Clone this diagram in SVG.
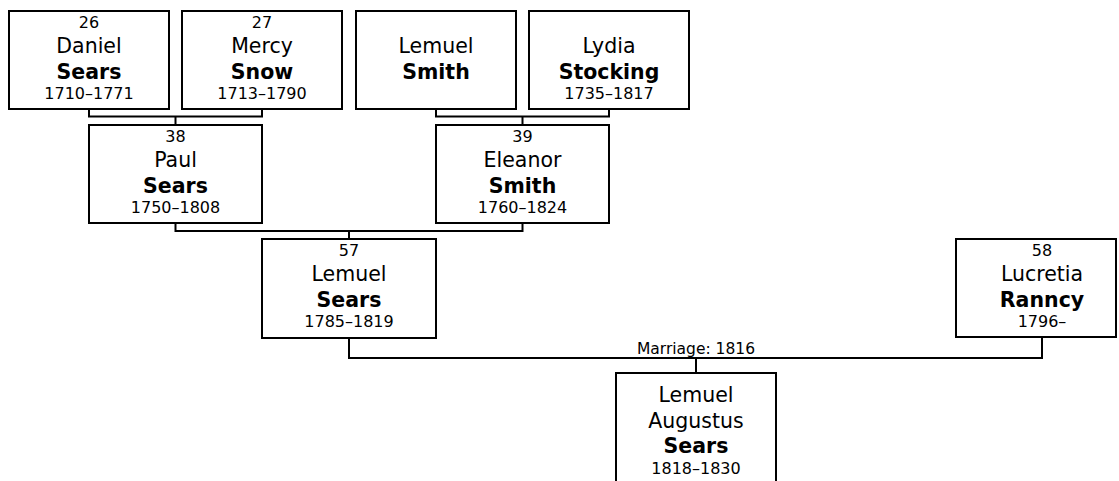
<svg xmlns="http://www.w3.org/2000/svg" width="1119" height="481" viewBox="0 0 1119 481">
<style>
.box{fill:#fff;stroke:#000;stroke-width:2}
.ln{fill:none;stroke:#000;stroke-width:2}
text{font-family:Verdana,"DejaVu Sans",sans-serif;fill:#000;text-anchor:middle}
.n{font-size:16px}
.g{font-size:20.5px}
.s{font-size:20.5px;font-weight:bold}
.d{font-size:16px}
.m{font-size:15.5px}
</style>
<rect width="1119" height="481" fill="#fff"/>
<g id="connectors">
<path class="ln" d="M89,109V116.5H262V109M175.5,116.5V125"/>
<path class="ln" d="M436,109V116.5H609V109M522.5,116.5V125"/>
<path class="ln" d="M175.5,223V231H522.5V223M349,231V239"/>
<path class="ln" d="M349,338V358H1042V337M696,358V373"/>
<text class="m" x="696" y="354">Marriage: 1816</text>
</g>
<g id="p26">
<rect class="box" x="9" y="11" width="160" height="98"/>
<text class="n" x="89" y="28">26</text>
<text class="g" x="89" y="53">Daniel</text>
<text class="s" x="89" y="78.5">Sears</text>
<text class="d" x="89" y="99">1710–1771</text>
</g>
<g id="p27">
<rect class="box" x="182" y="11" width="160" height="98"/>
<text class="n" x="262" y="28">27</text>
<text class="g" x="262" y="53">Mercy</text>
<text class="s" x="262" y="78.5">Snow</text>
<text class="d" x="262" y="99">1713–1790</text>
</g>
<g id="lemuel-smith">
<rect class="box" x="356" y="11" width="160" height="98"/>
<text class="g" x="436" y="53">Lemuel</text>
<text class="s" x="436" y="78.5">Smith</text>
</g>
<g id="lydia-stocking">
<rect class="box" x="529" y="11" width="160" height="98"/>
<text class="g" x="609" y="53">Lydia</text>
<text class="s" x="609" y="78.5">Stocking</text>
<text class="d" x="609" y="99">1735–1817</text>
</g>
<g id="p38">
<rect class="box" x="89" y="125" width="173" height="98"/>
<text class="n" x="175.5" y="142">38</text>
<text class="g" x="175.5" y="167">Paul</text>
<text class="s" x="175.5" y="192.5">Sears</text>
<text class="d" x="175.5" y="213">1750–1808</text>
</g>
<g id="p39">
<rect class="box" x="436" y="125" width="173" height="98"/>
<text class="n" x="522.5" y="142">39</text>
<text class="g" x="522.5" y="167">Eleanor</text>
<text class="s" x="522.5" y="192.5">Smith</text>
<text class="d" x="522.5" y="213">1760–1824</text>
</g>
<g id="p57">
<rect class="box" x="262" y="239" width="174" height="99"/>
<text class="n" x="349" y="256">57</text>
<text class="g" x="349" y="281">Lemuel</text>
<text class="s" x="349" y="306.5">Sears</text>
<text class="d" x="349" y="327">1785–1819</text>
</g>
<g id="p58">
<rect class="box" x="956" y="239" width="160" height="98"/>
<text class="n" x="1042" y="256">58</text>
<text class="g" x="1042" y="281">Lucretia</text>
<text class="s" x="1042" y="306.5">Ranncy</text>
<text class="d" x="1042" y="327">1796–</text>
</g>
<g id="child">
<rect class="box" x="616" y="373" width="160" height="120"/>
<text class="g" x="696" y="402">Lemuel</text>
<text class="g" x="696" y="427.5">Augustus</text>
<text class="s" x="696" y="453">Sears</text>
<text class="d" x="696" y="474">1818–1830</text>
</g>
</svg>
